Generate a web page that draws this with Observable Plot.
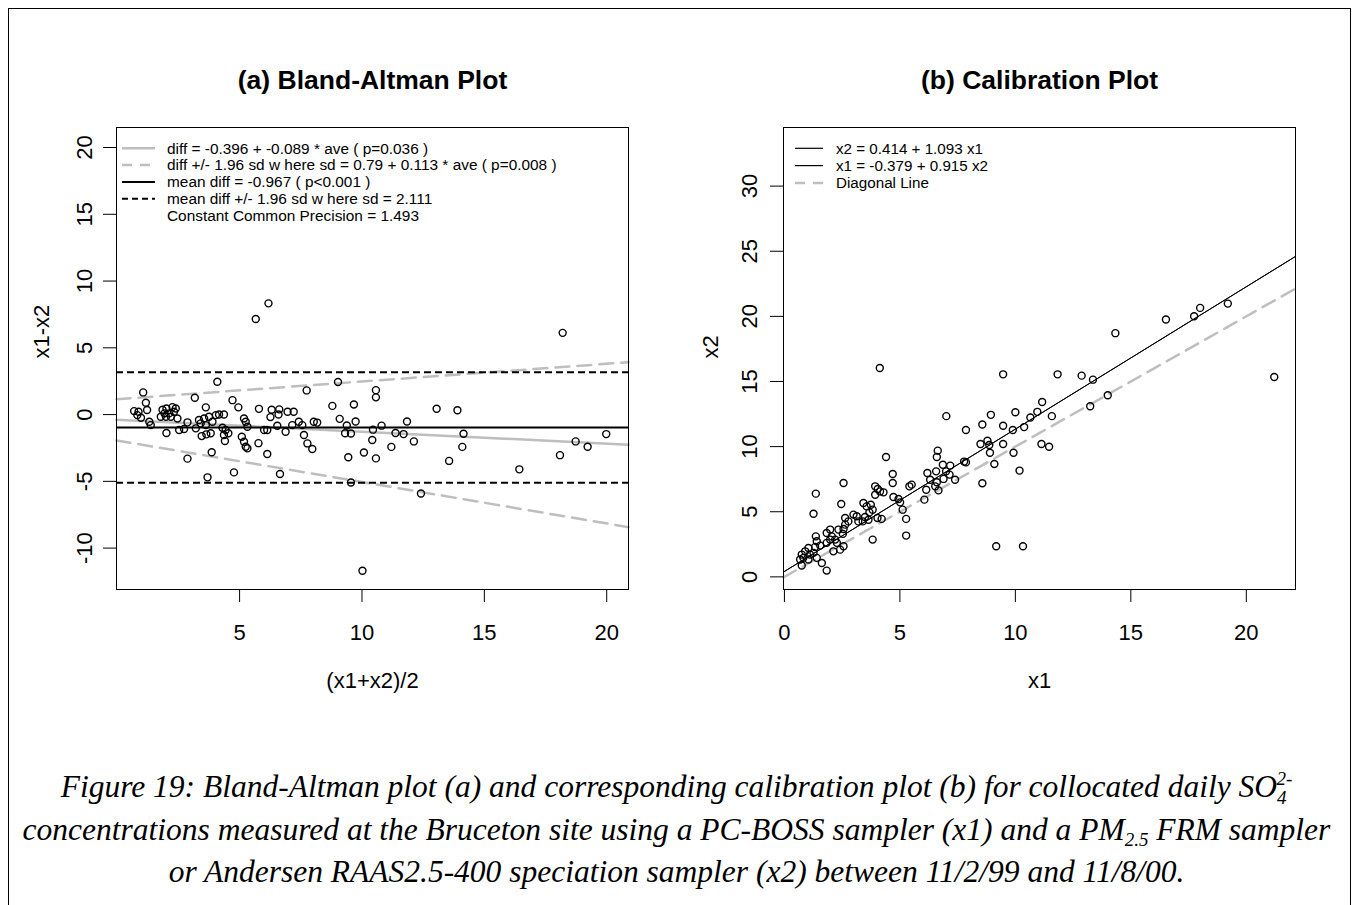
<!DOCTYPE html>
<html><head><meta charset="utf-8">
<script src="https://cdn.jsdelivr.net/npm/d3@7"></script>
<script src="https://cdn.jsdelivr.net/npm/@observablehq/plot@0.6"></script>
<style>
html,body{margin:0;padding:0;background:#fff;}
#page{position:relative;width:1353px;height:905px;overflow:hidden;background:#fff;}
#page > svg{position:absolute;}
</style></head><body><div id="page"></div>
<script>
// ---- (a) Bland-Altman data: average (x1+x2)/2 and difference x1-x2 ----
const baAve = [0.69,0.87,0.82,0.97,1.06,1.17,1.22,1.31,1.37,1.85,2.01,2.26,2.39,1.93,2.12,2.32,1.78,1.99,2.19,2.46,
  2.01,2.53,2.87,2.73,3.21,2.87,3.17,3.34,3.55,3.75,3.41,3.62,3.89,4.03,4.16,4.36,3.45,3.64,3.82,3.86,
  3.62,3.69,4.09,4.71,4.95,4.30,4.43,4.36,4.54,4.40,4.77,5.18,5.25,5.32,5.09,5.18,5.25,5.32,5.66,6.18,
  5.79,5.77,6.13,6.00,6.13,6.31,6.62,6.59,6.26,6.54,6.65,6.96,7.21,6.88,7.15,7.42,7.56,7.63,7.77,7.97,
  7.74,8.03,8.17,8.79,9.02,9.09,9.67,9.74,9.38,9.31,9.55,9.44,9.55,10.02,10.08,10.42,10.57,10.57,10.57,10.80,
  10.45,11.20,11.37,11.70,11.84,12.12,12.41,13.05,13.56,13.90,14.10,14.15,16.43,18.09,18.20,18.73,19.22,19.98];
const baDiff = [0.26,0.21,-0.04,-0.24,1.66,0.89,0.34,-0.54,-0.79,0.36,0.46,0.56,0.46,0.09,0.09,0.21,-0.16,-0.16,-0.16,-0.29,
  -1.38,-1.16,-0.58,-1.08,-1.03,-3.30,1.26,-0.41,-0.29,-0.16,-0.66,-0.79,-0.54,-0.04,0.01,0.01,-1.61,-1.48,-1.40,-2.82,
  0.54,-4.70,2.46,1.08,0.54,-0.99,-1.16,-1.53,-1.40,-1.98,-4.33,-0.29,-0.54,-0.91,-1.66,-2.03,-2.41,-2.53,7.16,8.33,
  0.43,-2.14,-2.95,-1.16,-1.16,0.36,0.39,0.01,-0.19,-0.84,-4.45,0.21,0.21,-1.29,-0.79,-0.54,-0.79,-1.53,-2.16,-2.58,
  1.81,-0.54,-0.60,0.65,2.44,-0.32,0.75,-0.52,-0.82,-1.40,-1.42,-3.19,-5.09,-11.70,-2.84,-1.90,1.83,1.29,-3.28,-0.83,
  -1.13,-2.42,-1.38,-1.46,-0.52,-2.01,-5.91,0.44,-3.47,0.32,-2.42,-1.44,-4.10,-3.04,6.12,-2.01,-2.41,-1.46];

// ---- (b) Calibration data: x1 (PC-BOSS) and x2 (FRM / RAAS) ----
const calX1 = [4.40,6.64,6.60,6.86,7.18,7.00,6.57,6.19,6.31,6.60,6.89,7.15,7.39,6.53,6.67,6.14,6.06,
  4.69,4.69,5.51,5.41,2.56,3.93,4.04,4.14,4.29,3.93,4.72,4.94,5.01,5.12,5.27,5.27,3.82,
  1.36,2.46,1.26,3.42,3.56,3.74,3.82,3.68,4.03,4.21,3.49,3.64,3.39,2.99,3.13,3.20,
  2.63,2.77,2.63,2.56,2.34,2.53,1.98,1.83,2.05,2.20,2.27,1.98,1.83,1.36,1.40,1.55,1.33,
  2.56,2.41,2.12,1.04,0.90,1.11,1.26,0.75,0.82,0.68,1.04,1.40,1.62,1.83,0.75,
  4.13,9.47,11.83,12.87,13.36,21.21,14.33,16.52,17.74,18.00,19.20,14.00,13.24,11.16,10.95,10.65,11.58,10.00,
  8.94,8.57,9.47,10.38,9.89,7.86,7.01,11.13,11.46,9.47,8.49,8.79,8.87,8.90,9.92,9.09,10.18,9.17,10.33,8.57,7.78,7.86];
const calX2 = [9.20,9.69,9.20,8.61,8.54,8.10,8.10,7.97,7.46,7.26,7.52,7.85,7.46,6.95,6.64,6.69,5.93,
  7.90,7.21,7.08,6.95,7.21,6.95,6.75,6.56,6.49,6.31,6.13,5.98,5.72,5.16,4.45,3.17,2.86,
  6.39,5.60,4.85,5.67,5.41,5.54,5.16,4.95,4.52,4.45,4.60,4.39,4.26,4.78,4.65,4.26,
  4.52,4.26,4.01,3.68,3.63,3.30,3.63,3.37,3.11,2.86,2.61,2.86,2.61,3.11,2.73,2.40,2.30,
  2.35,2.09,1.96,2.22,1.96,1.71,1.84,1.71,1.46,1.33,1.33,1.46,1.07,0.48,0.87,
  16.03,15.55,15.55,15.45,15.14,15.35,18.71,19.76,20.01,20.65,20.98,13.94,13.10,13.43,12.67,12.24,12.34,12.64,
  12.44,11.70,11.60,11.50,11.27,11.27,12.34,10.20,9.99,10.20,10.20,10.45,10.12,9.53,9.53,8.67,8.16,2.35,2.35,7.19,8.85,8.79];

// ---- fitted lines, as stated in the legends ----
const baFit = {a: -0.396, b: -0.089};     // diff = a + b*ave
const baSdFit = {a: 0.79, b: 0.113};      // sd = a + b*ave
const meanDiff = -0.967, sdDiff = 2.111;
const calFit = {a: 0.414, b: 1.093};      // x2 = a + b*x1
const calFitInv = {a: -0.379, b: 0.915};  // x1 = a + b*x2

// ---- ticks and texts ----
const baXTicks = [5, 10, 15, 20];
const baYTicks = [-10, -5, 0, 5, 10, 15, 20];
const calXTicks = [0, 5, 10, 15, 20];
const calYTicks = [0, 5, 10, 15, 20, 25, 30];
const baLegendText = ["diff = -0.396 + -0.089 * ave ( p=0.036 )",
  "diff +/- 1.96 sd w here sd = 0.79 + 0.113 * ave ( p=0.008 )",
  "mean diff = -0.967 ( p<0.001 )",
  "mean diff +/- 1.96 sd w here sd = 2.111",
  "Constant Common Precision = 1.493"];
const calLegendText = ["x2 = 0.414 + 1.093 x1", "x1 = -0.379 + 0.915 x2", "Diagonal Line"];

const SANS = "'Liberation Sans', Arial, Helvetica, sans-serif";
const SERIF = "'Liberation Serif', 'Times New Roman', serif";
const GREY = "#bebebe";
const page = document.getElementById("page");

// ---------------- (a) Bland-Altman ----------------
const baXDom = [-0.03, 20.89], baYDom = [-13.1, 21.5];
const baPts = baAve.map((a, i) => ({ave: a, diff: baDiff[i]}));
const baLine = (f) => baXDom.map(x => ({x, y: f(x)}));
const ba = Plot.plot({
  width: 680, height: 720, marginLeft: 116, marginTop: 127, marginRight: 52, marginBottom: 131,
  x: {domain: baXDom}, y: {domain: baYDom},
  style: {fontFamily: SANS, background: "transparent", color: "#000"},
  marks: [
    Plot.line(baLine(x => baFit.a + baFit.b * x), {x: "x", y: "y", stroke: GREY, strokeWidth: 2.5}),
    Plot.line(baLine(x => baFit.a + baFit.b * x + 1.96 * (baSdFit.a + baSdFit.b * x)), {x: "x", y: "y", stroke: GREY, strokeWidth: 2.5, strokeDasharray: "14,8"}),
    Plot.line(baLine(x => baFit.a + baFit.b * x - 1.96 * (baSdFit.a + baSdFit.b * x)), {x: "x", y: "y", stroke: GREY, strokeWidth: 2.5, strokeDasharray: "14,8"}),
    Plot.ruleY([meanDiff], {stroke: "#000", strokeWidth: 2}),
    Plot.ruleY([meanDiff - 1.96 * sdDiff, meanDiff + 1.96 * sdDiff], {stroke: "#000", strokeWidth: 2, strokeDasharray: "7,4"}),
    Plot.dot(baPts, {x: "ave", y: "diff", r: 3.5, stroke: "#000", strokeWidth: 1.4, fill: "none"}),
    Plot.frame({stroke: "#000", strokeWidth: 1}),
    Plot.axisX({ticks: baXTicks, tickSize: 13, tickPadding: 22, fontSize: 22, label: null, tickFormat: d => String(d)}),
    Plot.axisY({ticks: baYTicks, tickSize: 13, tickFormat: () => "", label: null}),
    Plot.text(baYTicks, {y: d => d, frameAnchor: "left", dx: -32, rotate: -90, text: d => String(d), fontSize: 22, textAnchor: "middle", lineAnchor: "middle"}),
    Plot.text(["(a) Bland-Altman Plot"], {frameAnchor: "top", dy: -47, text: d => d, fontSize: 26.5, fontWeight: "bold", lineAnchor: "middle"}),
    Plot.text(["(x1+x2)/2"], {frameAnchor: "bottom", dy: 91, text: d => d, fontSize: 22, lineAnchor: "middle"}),
    Plot.text(["x1-x2"], {frameAnchor: "left", dx: -75, rotate: -90, text: d => d, fontSize: 22, lineAnchor: "middle"})
  ]
});
ba.style.left = "0px"; ba.style.top = "0px";
page.appendChild(ba);

// ---------------- (b) Calibration ----------------
const calXDom = [-0.04, 22.13], calYDom = [-0.97, 34.5];
const calPts = calX1.map((a, i) => ({x1: a, x2: calX2[i]}));
const calLine = (f) => calXDom.map(x => ({x, y: f(x)}));
const cal = Plot.plot({
  width: 673, height: 720, marginLeft: 103, marginTop: 127, marginRight: 58, marginBottom: 131,
  x: {domain: calXDom}, y: {domain: calYDom},
  style: {fontFamily: SANS, background: "transparent", color: "#000"},
  marks: [
    Plot.line(calLine(x => x), {x: "x", y: "y", stroke: GREY, strokeWidth: 2.5, strokeDasharray: "14,8"}),
    Plot.line(calLine(x => calFit.a + calFit.b * x), {x: "x", y: "y", stroke: "#000", strokeWidth: 1}),
    Plot.line(calLine(x => (x - calFitInv.a) / calFitInv.b), {x: "x", y: "y", stroke: "#000", strokeWidth: 1}),
    Plot.dot(calPts, {x: "x1", y: "x2", r: 3.5, stroke: "#000", strokeWidth: 1.4, fill: "none"}),
    Plot.frame({stroke: "#000", strokeWidth: 1}),
    Plot.axisX({ticks: calXTicks, tickSize: 13, tickPadding: 22, fontSize: 22, label: null, tickFormat: d => String(d)}),
    Plot.axisY({ticks: calYTicks, tickSize: 13, tickFormat: () => "", label: null}),
    Plot.text(calYTicks, {y: d => d, frameAnchor: "left", dx: -34, rotate: -90, text: d => String(d), fontSize: 22, textAnchor: "middle", lineAnchor: "middle"}),
    Plot.text(["(b) Calibration Plot"], {frameAnchor: "top", dy: -47, text: d => d, fontSize: 26.5, fontWeight: "bold", lineAnchor: "middle"}),
    Plot.text(["x1"], {frameAnchor: "bottom", dy: 91, text: d => d, fontSize: 22, lineAnchor: "middle"}),
    Plot.text(["x2"], {frameAnchor: "left", dx: -73, rotate: -90, text: d => d, fontSize: 22, lineAnchor: "middle"})
  ]
});
cal.style.left = "680px"; cal.style.top = "0px";
page.appendChild(cal);

// ---------------- overlay: border, legends, caption ----------------
const ov = d3.select(page).append("svg").attr("width", 1353).attr("height", 905)
  .style("left", "0px").style("top", "0px").style("pointer-events", "none");
ov.append("rect").attr("x", 8.5).attr("y", 8.5).attr("width", 1342).attr("height", 910)
  .attr("fill", "none").attr("stroke", "#000").attr("stroke-width", 1);

const baLegStyle = [
  {stroke: GREY, w: 2.5, dash: null}, {stroke: GREY, w: 2.5, dash: "10,8"},
  {stroke: "#000", w: 2, dash: null}, {stroke: "#000", w: 2, dash: "6,4"}, null];
baLegendText.forEach((t, i) => {
  const y = 148.3 + i * 16.8, s = baLegStyle[i];
  if (s) ov.append("line").attr("x1", 122).attr("x2", 155).attr("y1", y).attr("y2", y)
    .attr("stroke", s.stroke).attr("stroke-width", s.w).attr("stroke-dasharray", s.dash);
  ov.append("text").attr("x", 167).attr("y", y).attr("dy", "0.35em").attr("font-family", SANS)
    .attr("font-size", 15.4).text(t);
});
const calLegStyle = [{stroke: "#000", w: 1.2, dash: null}, {stroke: "#000", w: 1.2, dash: null}, {stroke: GREY, w: 2.5, dash: "10,8"}];
calLegendText.forEach((t, i) => {
  const y = 148.3 + i * 17.3, s = calLegStyle[i];
  ov.append("line").attr("x1", 795).attr("x2", 823).attr("y1", y).attr("y2", y)
    .attr("stroke", s.stroke).attr("stroke-width", s.w).attr("stroke-dasharray", s.dash);
  ov.append("text").attr("x", 836).attr("y", y).attr("dy", "0.35em").attr("font-family", SANS)
    .attr("font-size", 15.2).text(t);
});

const cap = ov.append("g").attr("font-family", SERIF).attr("font-style", "italic").attr("font-size", 31.5)
  .attr("text-anchor", "middle").attr("fill", "#000");
const l1 = cap.append("text").attr("x", 676.5).attr("y", 797);
l1.append("tspan").text("Figure 19: Bland-Altman plot (a) and corresponding calibration plot (b) for collocated daily SO");
l1.append("tspan").attr("font-size", 19).attr("dy", 7).text("4");
l1.append("tspan").attr("font-size", 19).attr("dx", -10).attr("dy", -19).text("2-");
const l2 = cap.append("text").attr("x", 676.5).attr("y", 840);
l2.append("tspan").text("concentrations measured at the Bruceton site using a PC-BOSS sampler (x1) and a PM");
l2.append("tspan").attr("font-size", 19).attr("dy", 6).text("2.5");
l2.append("tspan").attr("dy", -6).text(" FRM sampler");
cap.append("text").attr("x", 676.5).attr("y", 882)
  .text("or Andersen RAAS2.5-400 speciation sampler (x2) between 11/2/99 and 11/8/00.");
</script></body></html>
